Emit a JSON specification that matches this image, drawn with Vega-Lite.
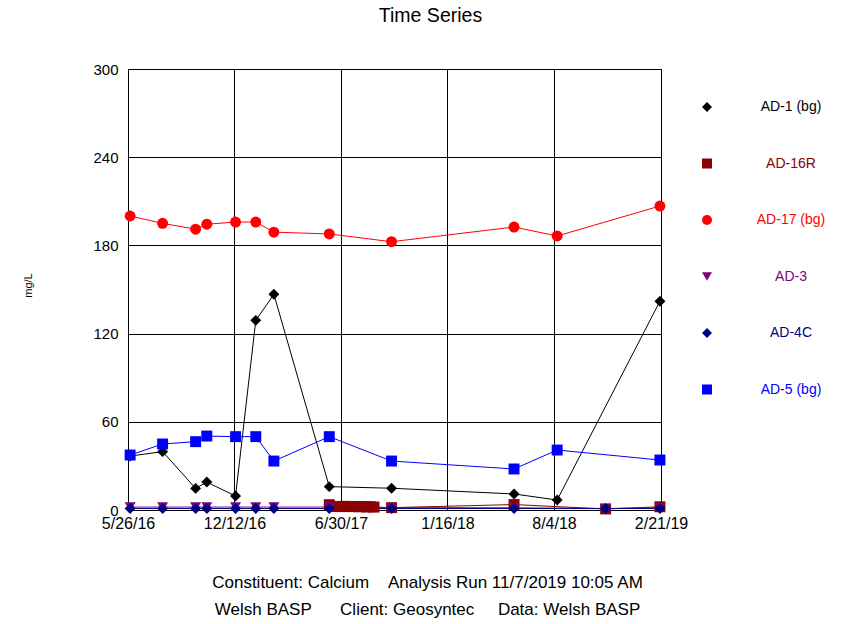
{
  "$schema": "https://vega.github.io/schema/vega-lite/v6.json",
  "autosize": {"type": "none"},
  "width": 533,
  "height": 441,
  "padding": {"left": 128, "top": 69, "right": 180, "bottom": 114},
  "background": "white",
  "config": {
    "font": "Liberation Sans",
    "view": {"stroke": "black", "strokeWidth": 1}
  },
  "title": {
    "text": "Time Series",
    "fontSize": 19.5,
    "fontWeight": "normal",
    "font": "Liberation Sans",
    "color": "black",
    "anchor": "middle",
    "dx": 36,
    "offset": 36
  },
  "data": {
    "values": [
      {"series": "AD-1 (bg)", "date": "2016-05-30", "value": 36.7},
      {"series": "AD-1 (bg)", "date": "2016-07-30", "value": 39.7},
      {"series": "AD-1 (bg)", "date": "2016-09-30", "value": 14.7},
      {"series": "AD-1 (bg)", "date": "2016-10-21", "value": 19},
      {"series": "AD-1 (bg)", "date": "2016-12-14", "value": 9.5},
      {"series": "AD-1 (bg)", "date": "2017-01-21", "value": 129},
      {"series": "AD-1 (bg)", "date": "2017-02-24", "value": 146.7},
      {"series": "AD-1 (bg)", "date": "2017-06-08", "value": 15.9},
      {"series": "AD-1 (bg)", "date": "2017-10-03", "value": 14.8},
      {"series": "AD-1 (bg)", "date": "2018-05-21", "value": 10.9},
      {"series": "AD-1 (bg)", "date": "2018-08-10", "value": 6.8},
      {"series": "AD-1 (bg)", "date": "2019-02-19", "value": 142},

      {"series": "AD-16R", "date": "2017-06-08", "value": 3.6},
      {"series": "AD-16R", "date": "2017-06-22", "value": 2.4},
      {"series": "AD-16R", "date": "2017-06-29", "value": 2.3},
      {"series": "AD-16R", "date": "2017-07-06", "value": 2.5},
      {"series": "AD-16R", "date": "2017-07-13", "value": 2.4},
      {"series": "AD-16R", "date": "2017-07-20", "value": 2.3},
      {"series": "AD-16R", "date": "2017-07-27", "value": 2.4},
      {"series": "AD-16R", "date": "2017-08-03", "value": 2.2},
      {"series": "AD-16R", "date": "2017-08-10", "value": 2.3},
      {"series": "AD-16R", "date": "2017-08-17", "value": 2.1},
      {"series": "AD-16R", "date": "2017-08-24", "value": 2.2},
      {"series": "AD-16R", "date": "2017-08-31", "value": 2.0},
      {"series": "AD-16R", "date": "2017-10-03", "value": 1.6},
      {"series": "AD-16R", "date": "2018-05-21", "value": 3.7},
      {"series": "AD-16R", "date": "2018-11-09", "value": 0.7},
      {"series": "AD-16R", "date": "2019-02-19", "value": 2.2},

      {"series": "AD-17 (bg)", "date": "2016-05-30", "value": 200},
      {"series": "AD-17 (bg)", "date": "2016-07-30", "value": 195},
      {"series": "AD-17 (bg)", "date": "2016-09-30", "value": 191},
      {"series": "AD-17 (bg)", "date": "2016-10-21", "value": 194.4},
      {"series": "AD-17 (bg)", "date": "2016-12-14", "value": 195.9},
      {"series": "AD-17 (bg)", "date": "2017-01-21", "value": 195.9},
      {"series": "AD-17 (bg)", "date": "2017-02-24", "value": 189},
      {"series": "AD-17 (bg)", "date": "2017-06-08", "value": 187.8},
      {"series": "AD-17 (bg)", "date": "2017-10-03", "value": 182.5},
      {"series": "AD-17 (bg)", "date": "2018-05-21", "value": 192.5},
      {"series": "AD-17 (bg)", "date": "2018-08-10", "value": 186.4},
      {"series": "AD-17 (bg)", "date": "2019-02-19", "value": 206.8},

      {"series": "AD-3", "date": "2016-05-30", "value": 2},
      {"series": "AD-3", "date": "2016-07-30", "value": 2},
      {"series": "AD-3", "date": "2016-09-30", "value": 2},
      {"series": "AD-3", "date": "2016-10-21", "value": 2},
      {"series": "AD-3", "date": "2016-12-14", "value": 2},
      {"series": "AD-3", "date": "2017-01-21", "value": 2},
      {"series": "AD-3", "date": "2017-02-24", "value": 2},
      {"series": "AD-3", "date": "2017-06-08", "value": 2},
      {"series": "AD-3", "date": "2017-10-03", "value": 1.6},
      {"series": "AD-3", "date": "2018-05-21", "value": 1.5},
      {"series": "AD-3", "date": "2018-11-09", "value": 1.0},
      {"series": "AD-3", "date": "2019-02-19", "value": 1.5},

      {"series": "AD-4C", "date": "2016-05-30", "value": 1},
      {"series": "AD-4C", "date": "2016-07-30", "value": 1},
      {"series": "AD-4C", "date": "2016-09-30", "value": 1},
      {"series": "AD-4C", "date": "2016-10-21", "value": 1},
      {"series": "AD-4C", "date": "2016-12-14", "value": 1},
      {"series": "AD-4C", "date": "2017-01-21", "value": 1},
      {"series": "AD-4C", "date": "2017-02-24", "value": 1},
      {"series": "AD-4C", "date": "2017-06-08", "value": 1},
      {"series": "AD-4C", "date": "2017-10-03", "value": 1},
      {"series": "AD-4C", "date": "2018-05-21", "value": 1},
      {"series": "AD-4C", "date": "2018-11-09", "value": 1},
      {"series": "AD-4C", "date": "2019-02-19", "value": 1},

      {"series": "AD-5 (bg)", "date": "2016-05-30", "value": 37.4},
      {"series": "AD-5 (bg)", "date": "2016-07-30", "value": 44.9},
      {"series": "AD-5 (bg)", "date": "2016-09-30", "value": 46.5},
      {"series": "AD-5 (bg)", "date": "2016-10-21", "value": 50.3},
      {"series": "AD-5 (bg)", "date": "2016-12-14", "value": 49.9},
      {"series": "AD-5 (bg)", "date": "2017-01-21", "value": 49.9},
      {"series": "AD-5 (bg)", "date": "2017-02-24", "value": 33.3},
      {"series": "AD-5 (bg)", "date": "2017-06-08", "value": 49.9},
      {"series": "AD-5 (bg)", "date": "2017-10-03", "value": 33.3},
      {"series": "AD-5 (bg)", "date": "2018-05-21", "value": 27.9},
      {"series": "AD-5 (bg)", "date": "2018-08-10", "value": 40.8},
      {"series": "AD-5 (bg)", "date": "2019-02-19", "value": 34}
    ]
  },
  "encoding": {
    "x": {
      "field": "date",
      "type": "temporal",
      "scale": {
        "type": "utc",
        "domain": [
          {"year": 2016, "month": 5, "date": 26, "utc": true},
          {"year": 2019, "month": 2, "date": 21, "utc": true}
        ]
      },
      "axis": {
        "title": ["Constituent: Calcium\u00a0\u00a0\u00a0\u00a0Analysis Run 11/7/2019 10:05 AM", "Welsh BASP\u00a0\u00a0\u00a0\u00a0\u00a0\u00a0Client: Geosyntec\u00a0\u00a0\u00a0\u00a0\u00a0Data: Welsh BASP"],
        "titleFontSize": 17,
        "titleFontWeight": "normal",
        "titleColor": "black",
        "titleX": 299,
        "titleY": 64,
        "titleAlign": "center",
        "titleBaseline": "top",
        "titleLineHeight": 27,
        "values": [
          {"year": 2016, "month": 5, "date": 26, "utc": true},
          {"year": 2016, "month": 12, "date": 12, "utc": true},
          {"year": 2017, "month": 6, "date": 30, "utc": true},
          {"year": 2018, "month": 1, "date": 16, "utc": true},
          {"year": 2018, "month": 8, "date": 4, "utc": true},
          {"year": 2019, "month": 2, "date": 21, "utc": true}
        ],
        "format": "%-m/%-d/%y",
        "labelFontSize": 16,
        "labelColor": "black",
        "labelPadding": 5,
        "labelFlush": false,
        "labelOverlap": false,
        "ticks": false,
        "grid": true,
        "gridColor": "black",
        "gridOpacity": 1,
        "gridWidth": 1,
        "domainColor": "black"
      }
    },
    "y": {
      "field": "value",
      "type": "quantitative",
      "scale": {"domain": [0, 300], "nice": false, "zero": true},
      "axis": {
        "title": "mg/L",
        "titleFontSize": 11,
        "titleFontWeight": "normal",
        "titleColor": "black",
        "titleX": -100,
        "titleY": 216,
        "titleAngle": -90,
        "titleAlign": "center",
        "titleBaseline": "middle",
        "values": [0, 60, 120, 180, 240, 300],
        "labelFontSize": 15,
        "labelColor": "black",
        "labelPadding": 10,
        "ticks": false,
        "grid": true,
        "gridColor": "black",
        "gridOpacity": 1,
        "gridWidth": 1,
        "domainColor": "black"
      }
    },
    "color": {
      "field": "series",
      "type": "nominal",
      "scale": {
        "domain": ["AD-1 (bg)", "AD-16R", "AD-17 (bg)", "AD-3", "AD-4C", "AD-5 (bg)"],
        "range": ["#000000", "#8B0000", "#FF0000", "#800080", "#000080", "#0000FF"]
      },
      "legend": {
        "title": null,
        "orient": "none",
        "legendX": 572,
        "legendY": 31,
        "symbolSize": 100,
        "symbolStrokeWidth": 0,
        "labelFontSize": 14,
        "labelAlign": "center",
        "labelOffset": 77,
        "rowPadding": 42.5,
        "encode": {
          "labels": {"update": {"fill": {"scale": "color", "field": "value"}}}
        }
      }
    }
  },
  "layer": [
    {
      "mark": {"type": "line", "strokeWidth": 1},
      "encoding": {"detail": {"field": "series"}}
    },
    {
      "mark": {"type": "point", "filled": true, "opacity": 1, "size": 120},
      "encoding": {
        "shape": {
          "field": "series",
          "type": "nominal",
          "scale": {
            "domain": ["AD-1 (bg)", "AD-16R", "AD-17 (bg)", "AD-3", "AD-4C", "AD-5 (bg)"],
            "range": ["diamond", "square", "circle", "triangle-down", "diamond", "square"]
          },
          "legend": {
            "title": null,
            "orient": "none",
            "legendX": 572,
            "legendY": 31,
            "symbolSize": 100,
            "labelFontSize": 14,
            "labelAlign": "center",
            "labelOffset": 77,
            "rowPadding": 42.5,
            "encode": {
              "labels": {"update": {"fill": {"scale": "color", "field": "value"}}}
            }
          }
        }
      }
    }
  ]
}
